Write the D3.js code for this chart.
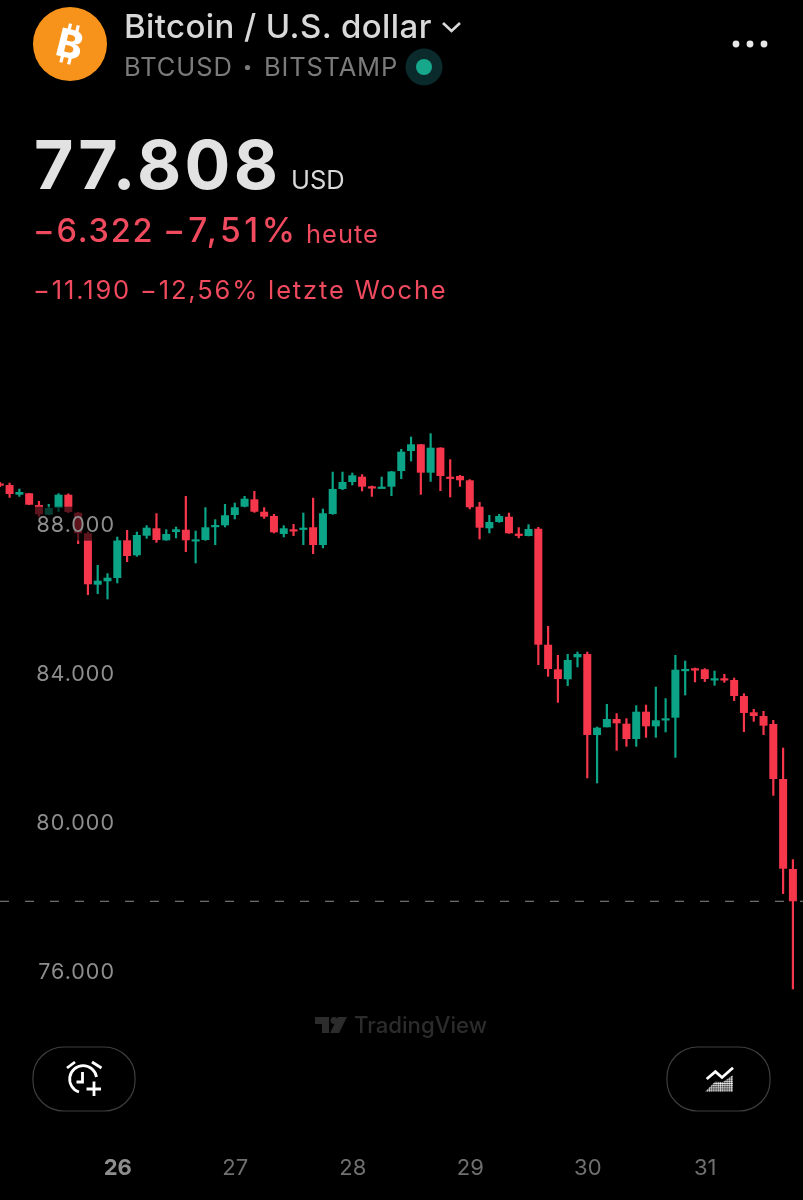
<!DOCTYPE html>
<html>
<head>
<meta charset="utf-8">
<script src="https://cdn.jsdelivr.net/npm/d3@7"></script>
<style>
  html, body { margin: 0; background: #000; }
  svg { display: block; filter: blur(0.45px); }
  text { font-family: Inter, "Noto Sans", sans-serif; }
</style>
</head>
<body>
<div id="chart"></div>
<script>
// BTCUSD 2h candles
const cOpen = [89026,88985,88725,88763,88448,88188,88368,88725,88242,87689,86308,86400,86488,87501,87098,87624,87823,87501,87723,87785,87490,87509,87866,87903,88180,88403,88601,88268,88153,87670,87796,87804,87850,87374,88207,88878,89066,89208,88950,88905,88940,89361,89898,90078,89316,89987,89208,89227,89112,88403,87823,87992,88134,87678,87616,87812,84697,84037,83768,84359,84448,82273,82480,82702,82576,82165,82898,82506,82684,82737,84010,84064,84037,83750,83795,83750,83320,82882,82783,82568,81091,78675];
const cHigh = [89066,89047,88886,88771,88556,88475,88763,88757,88260,87732,86837,86615,87597,87777,87732,87903,88226,87796,87866,88690,87758,88387,88064,88475,88510,88690,88824,88387,88207,87903,87938,88242,88644,88349,89342,89342,89316,89273,88967,89208,89361,89952,90282,90086,90374,89998,89675,89254,89138,88529,88180,88207,88242,87850,87930,87858,85200,84421,84448,84510,84510,82496,83105,82856,82721,83070,83086,83570,83258,84421,84268,84080,84064,83999,83911,83811,83392,82971,82917,82676,81932,78935];
const cLow = [88932,88644,88671,88448,88134,88180,88260,88234,87401,86032,86059,85916,86346,86918,87060,87544,87436,87490,87554,87186,86883,87490,87374,87850,88064,88387,88242,88081,87689,87581,87616,87374,87133,87286,88188,88851,88977,88816,88671,88905,88690,89146,89622,88725,89074,88824,88655,88940,88333,87527,87689,87973,87678,87554,87608,84152,83838,83140,83589,84091,81110,80976,82480,81851,81959,81959,82200,82200,82345,81663,83339,83688,83696,83597,83677,83186,82353,82630,82273,80643,78004,75445];
const cClose = [88972,88744,88797,88456,88199,88368,88725,88260,87689,86319,86416,86496,87501,87079,87643,87839,87509,87670,87796,87501,87527,87850,87911,88172,88387,88618,88268,88134,87715,87823,87750,87839,87374,88226,88878,89066,89246,88940,88905,88940,89348,89880,90078,89316,89987,89227,89173,89112,88387,87839,87992,88153,87689,87635,87804,84697,84045,83776,84287,84448,82273,82469,82702,82587,82165,82898,82506,82668,82721,84026,84045,84018,83776,83795,83750,83320,82864,82783,82523,81091,78683,77808];

const priceTicks = [88000, 84000, 80000, 76000];
const dayTicks = [12, 24, 36, 48, 60, 72];
const dayLabels = ['26', '27', '28', '29', '30', '31'];
const lastPrice = 77808;

const width = 803, height = 1200;
const upColor = '#0ba487', downColor = '#f5364b';

const svg = d3.select('#chart').append('svg')
  .attr('width', width)
  .attr('height', height);

svg.append('rect').attr('width', width).attr('height', height).attr('fill', '#000');

// scales: one slot per candle, price axis fixed on the last price line
const x = d3.scaleLinear().domain([0, 81]).range([-0.2, 792.9]);
const y = d3.scaleLinear().domain([88000, 76000]).range([521.7, 968.6]);

// last price line
svg.append('line')
  .attr('x1', 0).attr('x2', width)
  .attr('y1', y(lastPrice)).attr('y2', y(lastPrice))
  .attr('stroke', '#8c8c8c')
  .attr('stroke-width', 1)
  .attr('stroke-dasharray', '9 16');

// candles
const candles = svg.append('g').selectAll('g')
  .data(cOpen.map((o, i) => ({ i, o, h: cHigh[i], l: cLow[i], c: cClose[i] })))
  .join('g')
  .attr('fill', d => d.c >= d.o ? upColor : downColor);

candles.append('rect')
  .attr('x', d => x(d.i) - 1.1)
  .attr('width', 2.2)
  .attr('y', d => y(d.h))
  .attr('height', d => y(d.l) - y(d.h));

candles.append('rect')
  .attr('x', d => x(d.i) - 4)
  .attr('width', 8)
  .attr('y', d => y(Math.max(d.o, d.c)))
  .attr('height', d => Math.max(2.2, Math.abs(y(d.o) - y(d.c))));

// price labels sit on a translucent plate over the candles
const priceFormat = d3.formatLocale({ decimal: ',', thousands: '.', grouping: [3], currency: ['', ''] }).format(',d');

svg.append('g').selectAll('rect')
  .data(priceTicks)
  .join('rect')
  .attr('x', 34).attr('width', 82)
  .attr('y', d => y(d) - 15).attr('height', 34)
  .attr('fill', '#000').attr('opacity', 0.62);

const yAxis = svg.append('g')
  .attr('transform', 'translate(115,0)')
  .call(d3.axisLeft(y).tickValues(priceTicks).tickSize(0).tickPadding(0).tickFormat(priceFormat));
yAxis.select('.domain').remove();
yAxis.selectAll('text')
  .attr('y', 3.4)
  .attr('fill', '#8e8e8e')
  .style('font-size', '21.5px')
  .style('letter-spacing', '1px');

const xAxis = svg.append('g')
  .attr('transform', 'translate(0,1167)')
  .call(d3.axisBottom(x).tickValues(dayTicks).tickSize(0).tickPadding(0).tickFormat((d, i) => dayLabels[i]));
xAxis.select('.domain').remove();
xAxis.selectAll('text')
  .attr('y', 0).attr('dy', '0.36em')
  .attr('fill', (d, i) => i === 0 ? '#8e8e8e' : '#6f6f6f')
  .style('font-size', '22px')
  .style('font-weight', (d, i) => i === 0 ? 700 : 400);

// header
const logo = svg.append('g').attr('transform', 'translate(70,44)');
logo.append('circle').attr('r', 37).attr('fill', '#f7931a');
const bGlyph = logo.append('g').attr('transform', 'rotate(14)');
bGlyph.append('text')
  .attr('text-anchor', 'middle').attr('y', 14)
  .attr('fill', '#fff')
  .style('font-size', '39px').style('font-weight', 800)
  .text('B');
[[-6, -20], [2, -20], [-6, 13], [2, 13]].forEach(p => {
  bGlyph.append('rect').attr('x', p[0]).attr('y', p[1]).attr('width', 3.2).attr('height', 7).attr('fill', '#fff');
});

const addText = (px, py, txt, size, weight, color, spacing) => svg.append('text')
  .attr('x', px).attr('y', py).attr('fill', color)
  .style('font-size', size + 'px').style('font-weight', weight)
  .style('letter-spacing', (spacing || 0) + 'px')
  .text(txt);

addText(124, 38, 'Bitcoin / U.S. dollar', 33, 500, '#d9d9d9', 0.4);
addText(124, 76, 'BTCUSD', 25.5, 400, '#7b7b7b', 0.9);
svg.append('circle').attr('cx', 247.5).attr('cy', 67.5).attr('r', 2.6).attr('fill', '#7b7b7b');
addText(264, 76, 'BITSTAMP', 25.5, 400, '#7b7b7b', 0.8);
svg.append('circle').attr('cx', 424).attr('cy', 67).attr('r', 18.5).attr('fill', '#0b2a2c');
svg.append('circle').attr('cx', 424).attr('cy', 67).attr('r', 8).attr('fill', '#17a88c');
svg.append('path')
  .attr('d', 'M443 23 L451.5 31 L460 23')
  .attr('fill', 'none').attr('stroke', '#d9d9d9').attr('stroke-width', 2.6);
[736, 750, 764].forEach(cx => {
  svg.append('circle').attr('cx', cx).attr('cy', 44).attr('r', 3.4).attr('fill', '#e8e8e8');
});

addText(34, 189, '77.808', 68, 700, '#e2e2e2', 3.4);
addText(291, 189, 'USD', 25.5, 400, '#d9d9d9');
addText(33, 242, '\u22126.322', 32.5, 500, '#ef4a5e', 1.8);
addText(163, 242, '\u22127,51%', 33.5, 500, '#ef4a5e', 3.6);
addText(306, 243, 'heute', 25.5, 400, '#ef4a5e', 1);
addText(33, 299, '\u221211.190 \u221212,56% letzte Woche', 25.5, 400, '#ef4a5e', 1.85);

// watermark
svg.append('path')
  .attr('d', 'M315 1017 H329 V1033 H322 V1024 H315 Z M338 1017 H347 L339 1033 H330 Z')
  .attr('fill', '#2c2c2c');
svg.append('circle').attr('cx', 334).attr('cy', 1020.5).attr('r', 3.4).attr('fill', '#2c2c2c');
addText(354, 1033, 'TradingView', 22.2, 500, '#2c2c2c');

// bottom buttons
[[33, 102], [667, 103]].forEach(b => {
  svg.append('rect')
    .attr('x', b[0]).attr('y', 1047).attr('width', b[1]).attr('height', 64)
    .attr('rx', 31).attr('ry', 30)
    .attr('fill', 'none').attr('stroke', '#3e3e3e').attr('stroke-width', 1.2);
});

const alarm = svg.append('g')
  .attr('fill', 'none').attr('stroke', '#fff').attr('stroke-width', 2.8);
alarm.append('path').attr('d', 'M96.5 1077 A13.5 13.5 0 1 0 79 1092');
alarm.append('path').attr('d', 'M82.5 1072 V1082 H76.5');
alarm.append('path').attr('d', 'M67 1068 L75 1062 M101.5 1068 L92 1062');
alarm.append('path').attr('d', 'M94 1081.5 V1096 M86.5 1089 H101');

const defs = svg.append('defs');
defs.append('pattern')
  .attr('id', 'dots').attr('width', 2.2).attr('height', 2.2)
  .attr('patternUnits', 'userSpaceOnUse')
  .append('circle').attr('cx', 1.1).attr('cy', 1.1).attr('r', 0.95).attr('fill', '#fff');
svg.append('path')
  .attr('d', 'M705 1091.7 L715 1081.7 L723 1082 L733 1075 V1091.7 Z')
  .attr('fill', 'url(#dots)');
svg.append('path')
  .attr('d', 'M706.7 1079 L715.4 1071.7 L722 1077.5 L733 1067.7')
  .attr('fill', 'none').attr('stroke', '#fff').attr('stroke-width', 2.8);
</script>
</body>
</html>
